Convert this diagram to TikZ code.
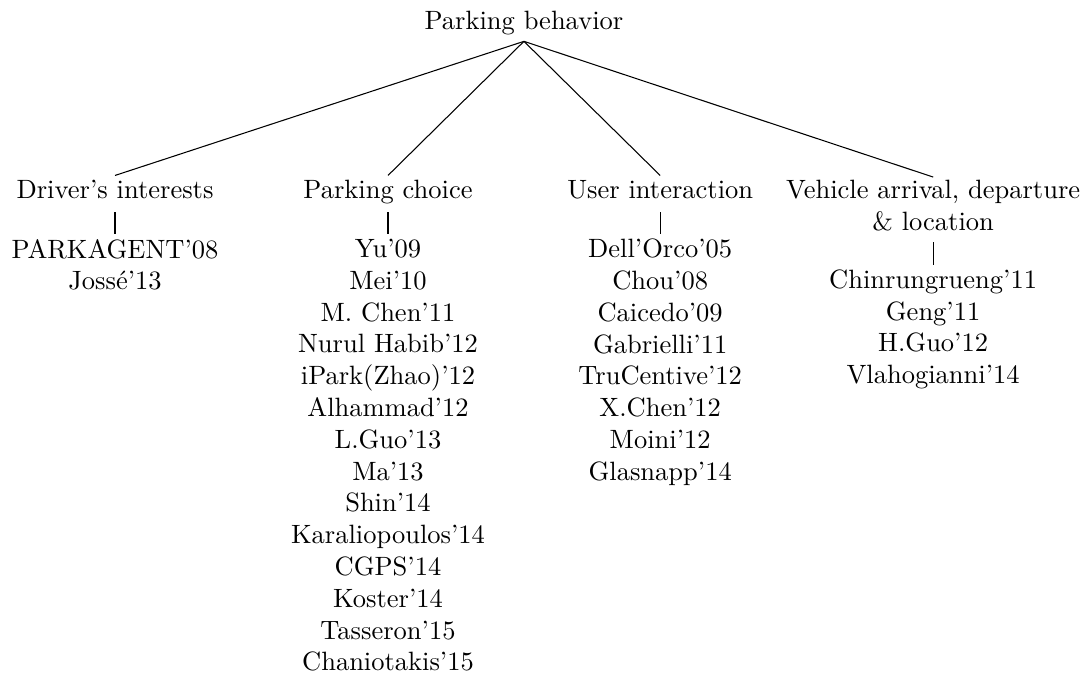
\documentclass[tikz,border=0pt]{standalone}
\begin{document}
\begin{tikzpicture}[
  rootnode/.style={anchor=base, inner sep=0pt, text depth=4.1pt},
  catnode/.style={anchor=base, inner sep=0pt, text height=8.4pt, text depth=5.1pt},
  catmulti/.style={anchor=north, align=center, inner xsep=0pt, inner ysep=1.06pt, text depth=3.1pt},
  listnode/.style={anchor=north, align=center, inner xsep=0pt, inner ysep=1.7pt},
  link/.style={draw=black, line width=0.4pt}
]
\useasboundingbox (0,0) rectangle (409.4pt,-254.7pt);

\node[rootnode] (root) at (197.7pt,-11.3pt) {Parking behavior};

\node[catnode] (c1) at (43.4pt,-74.8pt) {Driver's interests};
\node[catnode] (c2) at (146.4pt,-74.8pt) {Parking choice};
\node[catnode] (c3) at (249.1pt,-74.8pt) {User interaction};
\node[catmulti] (c4) at (352.1pt,-66.8pt) {Vehicle arrival, departure\\ \& location};

\node[listnode] (l1) at (43.4pt,-88.3pt) {PARKAGENT'08\\ Jossé'13};
\node[listnode] (l2) at (146.4pt,-88.3pt) {Yu'09\\ Mei'10\\ M. Chen'11\\ Nurul Habib'12\\ iPark(Zhao)'12\\ Alhammad'12\\ L.Guo'13\\ Ma'13\\ Shin'14\\ Karaliopoulos'14\\ CGPS'14\\ Koster'14\\ Tasseron'15\\ Chaniotakis'15};
\node[listnode] (l3) at (249.1pt,-88.3pt) {Dell'Orco'05\\ Chou'08\\ Caicedo'09\\ Gabrielli'11\\ TruCentive'12\\ X.Chen'12\\ Moini'12\\ Glasnapp'14};
\node[listnode] (l4) at (352.1pt,-99.8pt) {Chinrungrueng'11\\ Geng'11\\ H.Guo'12\\ Vlahogianni'14};

\draw[link] (root.south) -- (c1.north);
\draw[link] (root.south) -- (c2.north);
\draw[link] (root.south) -- (c3.north);
\draw[link] (root.south) -- (c4.north);

\draw[link] (c1.south) -- (l1.north);
\draw[link] (c2.south) -- (l2.north);
\draw[link] (c3.south) -- (l3.north);
\draw[link] (c4.south) -- (l4.north);
\end{tikzpicture}
\end{document}
